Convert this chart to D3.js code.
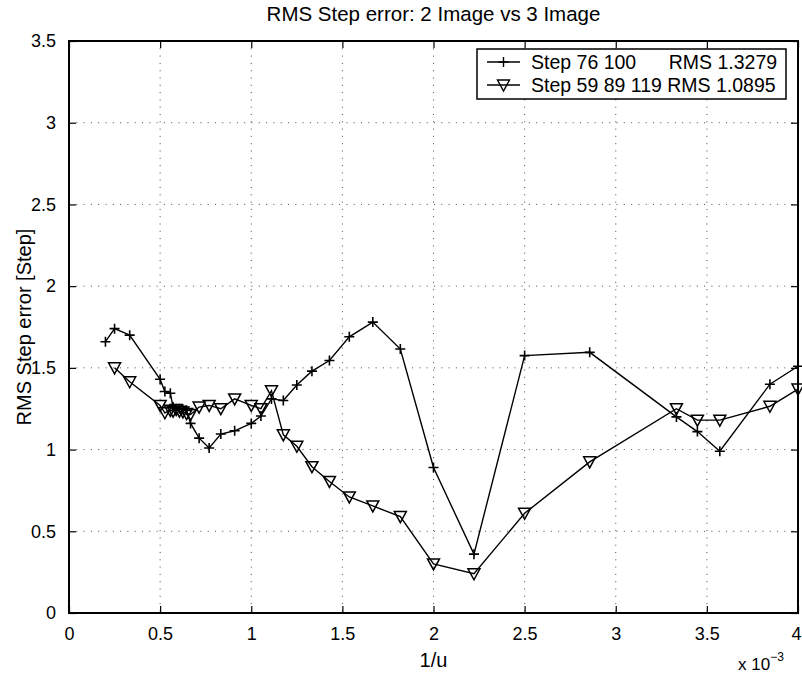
<!DOCTYPE html>
<html>
<head>
<meta charset="utf-8">
<script src="https://cdn.jsdelivr.net/npm/d3@7/dist/d3.min.js"></script>
<style>
  html, body { margin: 0; padding: 0; background: #fff; }
  text { font-family: "Liberation Sans", Arial, sans-serif; fill: #000; }
</style>
</head>
<body>
<div id="chart"></div>
<script>
// 1/u values (x 10^-3) and RMS step error for the two step combinations
const xPlus = [0.2, 0.25, 0.333, 0.5, 0.526, 0.556, 0.571, 0.588, 0.606, 0.625, 0.645, 0.667,
  0.714, 0.769, 0.833, 0.909, 1.0, 1.053, 1.111, 1.176, 1.25, 1.333, 1.429, 1.538, 1.667,
  1.818, 2.0, 2.222, 2.5, 2.857, 3.333, 3.448, 3.571, 3.846, 4.0];
const yPlus = [1.66, 1.74, 1.70, 1.43, 1.355, 1.345, 1.26, 1.25, 1.25, 1.245, 1.24, 1.16,
  1.07, 1.01, 1.095, 1.115, 1.16, 1.205, 1.31, 1.30, 1.395, 1.48, 1.545, 1.69, 1.78,
  1.615, 0.89, 0.36, 1.575, 1.595, 1.20, 1.11, 0.99, 1.40, 1.51];

const xTri = [0.25, 0.333, 0.5, 0.526, 0.556, 0.571, 0.588, 0.606, 0.625, 0.645, 0.667,
  0.714, 0.769, 0.833, 0.909, 1.0, 1.053, 1.111, 1.176, 1.25, 1.333, 1.429, 1.538, 1.667,
  1.818, 2.0, 2.222, 2.5, 2.857, 3.333, 3.448, 3.571, 3.846, 4.0];
const yTri = [1.50, 1.415, 1.27, 1.225, 1.24, 1.235, 1.245, 1.235, 1.23, 1.22, 1.215,
  1.26, 1.27, 1.25, 1.31, 1.27, 1.25, 1.36, 1.09, 1.02, 0.895, 0.805, 0.71, 0.655,
  0.59, 0.30, 0.24, 0.61, 0.925, 1.25, 1.18, 1.18, 1.265, 1.37];

const xTicks = [0, 0.5, 1, 1.5, 2, 2.5, 3, 3.5, 4];
const yTicks = [0, 0.5, 1, 1.5, 2, 2.5, 3, 3.5];
const legendLabels = ["Step 76 100      RMS 1.3279", "Step 59 89 119 RMS 1.0895"];
const titleText = "RMS Step error: 2 Image vs 3 Image";
const xLabelText = "1/u";
const yLabelText = "RMS Step error [Step]";

const W = 802, H = 675;
const margin = { left: 69, right: 4, top: 41, bottom: 62 };
const iw = W - margin.left - margin.right;
const ih = H - margin.top - margin.bottom;

const svg = d3.select("#chart").append("svg")
  .attr("width", W).attr("height", H);

const x = d3.scaleLinear().domain([0, 4]).range([0, iw]);
const y = d3.scaleLinear().domain([0, 3.5]).range([ih, 0]);

const g = svg.append("g").attr("transform", `translate(${margin.left},${margin.top})`);

// dotted grid
g.append("g").selectAll("line").data(xTicks.slice(1, -1)).join("line")
  .attr("x1", d => x(d)).attr("x2", d => x(d)).attr("y1", 0).attr("y2", ih)
  .attr("stroke", "#000").attr("stroke-width", 1).attr("stroke-dasharray", "1,6.3")
  .attr("opacity", 0.7);
g.append("g").selectAll("line").data(yTicks.slice(1, -1)).join("line")
  .attr("y1", d => y(d)).attr("y2", d => y(d)).attr("x1", 0).attr("x2", iw)
  .attr("stroke", "#000").attr("stroke-width", 1).attr("stroke-dasharray", "1,6.3")
  .attr("opacity", 0.7);

// axes with inward ticks on all four sides
const tickLen = 7;
const fmt = d => d3.format("")(d);
const styleAxis = sel => {
  sel.select(".domain").remove();
  sel.selectAll("line").attr("stroke", "#000").attr("stroke-width", 1.2);
};
const ax = g.append("g").attr("transform", `translate(0,${ih})`)
  .call(d3.axisBottom(x).tickValues(xTicks).tickSize(-tickLen).tickPadding(14).tickFormat(fmt));
styleAxis(ax);
ax.selectAll("text").attr("font-size", 18).attr("dy", "0.71em");
// keep the last label inside the page edge
ax.selectAll("text").filter(d => d === 4).attr("dx", -2);
const axTop = g.append("g").call(d3.axisTop(x).tickValues(xTicks).tickSize(-tickLen).tickFormat(""));
styleAxis(axTop);
const ay = g.append("g")
  .call(d3.axisLeft(y).tickValues(yTicks).tickSize(-tickLen).tickPadding(13).tickFormat(fmt));
styleAxis(ay);
ay.selectAll("text").attr("font-size", 18);
const ayR = g.append("g").attr("transform", `translate(${iw},0)`)
  .call(d3.axisRight(y).tickValues(yTicks).tickSize(-tickLen).tickFormat(""));
styleAxis(ayR);

g.append("rect").attr("x", 0).attr("y", 0).attr("width", iw).attr("height", ih)
  .attr("fill", "none").attr("stroke", "#000").attr("stroke-width", 2);

// series
const line = d3.line();
const plusPts = xPlus.map((v, i) => [x(v), y(yPlus[i])]);
const triPts = xTri.map((v, i) => [x(v), y(yTri[i])]);

const plusPath = (cx, cy, r) => `M${cx - r},${cy}H${cx + r}M${cx},${cy - r}V${cy + r}`;
const triPath = (cx, cy) => `M${cx - 6},${cy - 5}L${cx + 6},${cy - 5}L${cx},${cy + 6}Z`;

g.append("path").attr("d", line(plusPts)).attr("fill", "none")
  .attr("stroke", "#000").attr("stroke-width", 1.4);
g.append("path").attr("d", line(triPts)).attr("fill", "none")
  .attr("stroke", "#000").attr("stroke-width", 1.4);

g.append("g").selectAll("path").data(plusPts).join("path")
  .attr("d", d => plusPath(d[0], d[1], 5))
  .attr("stroke", "#000").attr("stroke-width", 1.6).attr("fill", "none");
g.append("g").selectAll("path").data(triPts).join("path")
  .attr("d", d => triPath(d[0], d[1]))
  .attr("stroke", "#000").attr("stroke-width", 1.5).attr("fill", "none");

// legend
const lg = svg.append("g").attr("transform", "translate(477,49)");
lg.append("rect").attr("width", 309).attr("height", 50)
  .attr("fill", "#fff").attr("stroke", "#000").attr("stroke-width", 1.5);
legendLabels.forEach((lab, i) => {
  const cy = 13 + i * 23;
  lg.append("line").attr("x1", 10).attr("x2", 43).attr("y1", cy).attr("y2", cy)
    .attr("stroke", "#000").attr("stroke-width", 1.4);
  lg.append("path").attr("d", i === 0 ? plusPath(26.5, cy, 5) : triPath(26.5, cy))
    .attr("stroke", "#000").attr("stroke-width", 1.4).attr("fill", "none");
  lg.append("text").attr("x", 54).attr("y", cy).attr("dy", "0.35em")
    .attr("font-size", 19.5).style("white-space", "pre").text(lab);
});

// title and axis labels
svg.append("text").attr("x", margin.left + iw / 2).attr("y", 21)
  .attr("text-anchor", "middle").attr("font-size", 20.5).text(titleText);
svg.append("text").attr("x", margin.left + iw / 2).attr("y", 667)
  .attr("text-anchor", "middle").attr("font-size", 20).text(xLabelText);
svg.append("text").attr("transform", `translate(31,${margin.top + ih / 2}) rotate(-90)`)
  .attr("text-anchor", "middle").attr("font-size", 20).text(yLabelText);

// exponent note for the x axis
const ex = svg.append("text").attr("x", 738).attr("y", 670).attr("font-size", 17);
ex.append("tspan").text("x 10");
ex.append("tspan").attr("dy", -9).attr("font-size", 12).text("−3");
</script>
</body>
</html>
